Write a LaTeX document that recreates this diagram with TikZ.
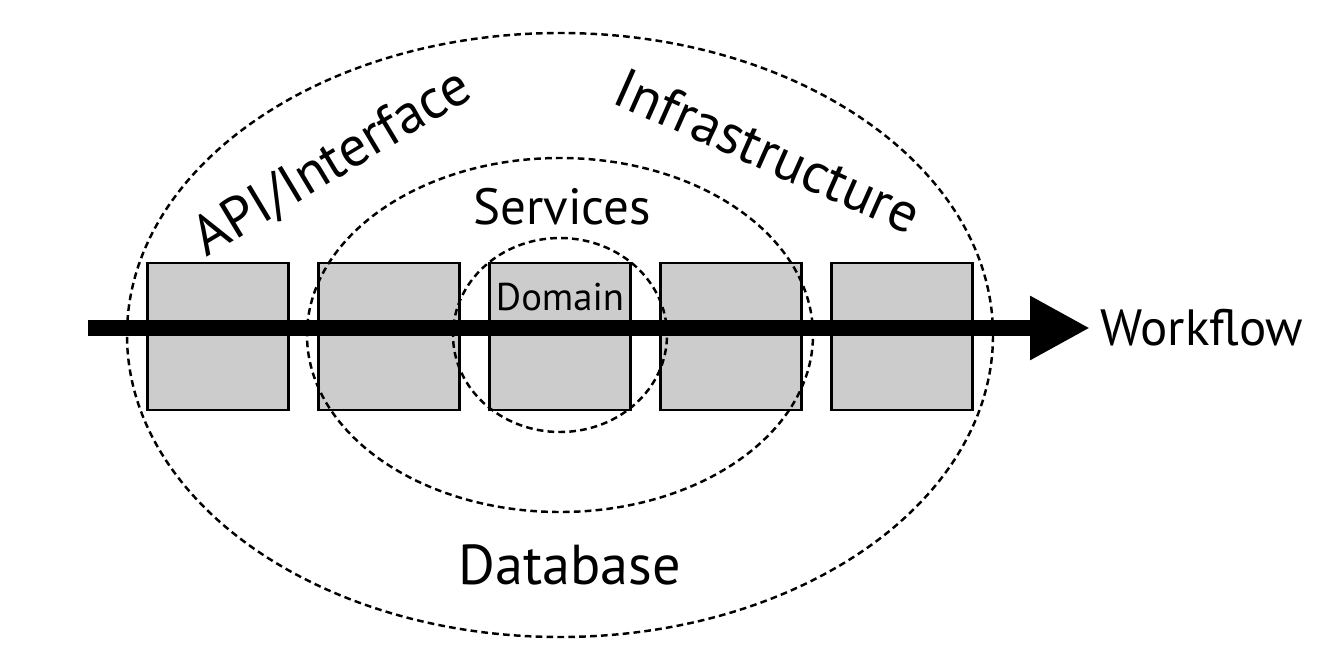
\documentclass[tikz,border=0pt]{standalone}
\usepackage{fontspec}
\setmainfont{PT Sans}
\usepackage{xcolor}
\usepackage{tikz}
\usetikzlibrary{arrows.meta,positioning,calc}
\definecolor{boxgray}{RGB}{204,204,204}

\begin{document}
\begin{tikzpicture}[
            layer box/.style={rectangle,fill=boxgray,draw,line width=1.2pt,minimum width=2.82cm,minimum height=2.94cm,inner sep=0pt},
            ring/.style={draw,dash pattern=on 3.8pt off 2.4pt,line width=1.4pt},
            big label/.style={font=\fontsize{29}{34}\selectfont},
            side label/.style={font=\fontsize{32}{38}\selectfont},
            small label/.style={font=\fontsize{22}{26}\selectfont,inner sep=1pt},
            flow/.style={line width=0.32cm,-{Triangle[length=1.2cm,width=1.2cm]}}
        ]
            \useasboundingbox (0,0) rectangle (26.68,13.12);

            \node[layer box] (api) at (4.36,6.39) {};
            \node[layer box] (services) at (7.78,6.39) {};
            \node[layer box] (domain) at (11.2,6.39) {};
            \node[layer box] (infra) at (14.62,6.39) {};
            \node[layer box] (database) at (18.04,6.39) {};

            \coordinate (core) at (11.2,6.42);
            \draw[ring] (core) ellipse [x radius=8.66cm, y radius=6.04cm];
            \draw[ring] (core) ellipse [x radius=5.06cm, y radius=3.54cm];
            \draw[ring] (core) ellipse [x radius=2.14cm, y radius=1.94cm];

            \coordinate (start) at (1.76,6.56);
            \node[big label,anchor=west,inner sep=0.2cm] (workflow) at (21.8,6.56) {Workflow};
            \draw[flow] (start) -- (start -| workflow.west);

            \node[small label] (domaintext) at (11.2,7.18) {Domain};
            \node[big label] (servicestext) at (11.24,8.98) {Services};
            \node[side label] (databasetext) at (11.4,1.82) {Database};
            \node[side label,rotate=31] (apitext) at (6.65,9.86) {API/Interface};
            \node[side label,rotate=-24] (infratext) at (15.36,10.1) {Infrastructure};
        \end{tikzpicture}
\end{document}
